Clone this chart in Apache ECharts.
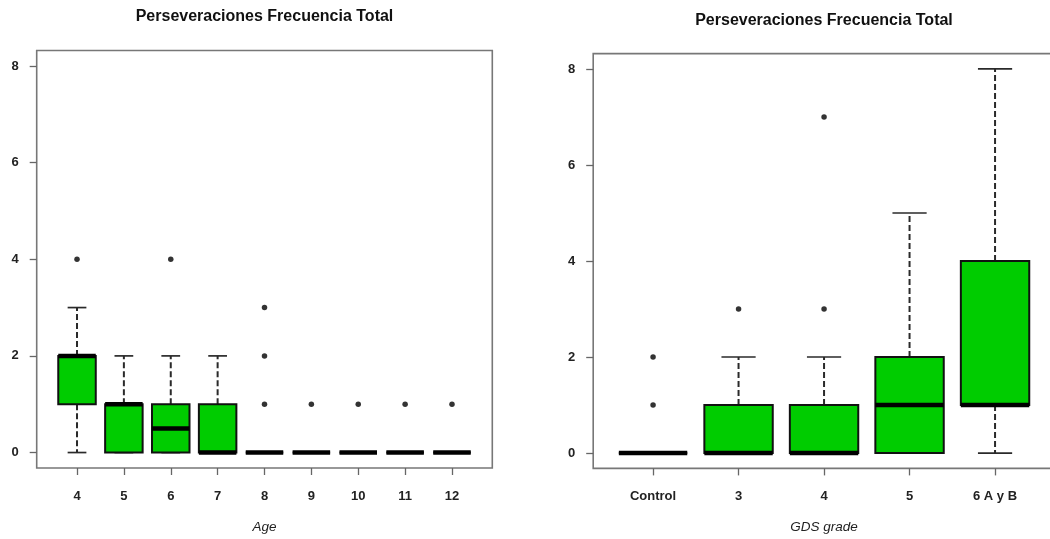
<!DOCTYPE html>
<html>
<head>
<meta charset="utf-8">
<title>Perseveraciones Frecuencia Total</title>
<script src="https://cdn.jsdelivr.net/npm/echarts@6/dist/echarts.min.js"></script>
<style>
  html, body { margin: 0; padding: 0; background: #ffffff; }
  #chart { width: 1050px; height: 539px; }
</style>
</head>
<body>
<div id="chart"></div>
<script>
// Box statistics per group: [min whisker, Q1, median, Q3, max whisker]
const ageCategories = ['4', '5', '6', '7', '8', '9', '10', '11', '12'];
const ageStats = [
  [0, 1, 2, 2, 3],
  [0, 0, 1, 1, 2],
  [0, 0, 0.5, 1, 2],
  [0, 0, 0, 1, 2],
  [0, 0, 0, 0, 0],
  [0, 0, 0, 0, 0],
  [0, 0, 0, 0, 0],
  [0, 0, 0, 0, 0],
  [0, 0, 0, 0, 0]
];
// Outliers: [group position (1-based), value]
const ageOutliers = [[1, 4], [3, 4], [5, 1], [5, 2], [5, 3], [6, 1], [7, 1], [8, 1], [9, 1]];

const gdsCategories = ['Control', '3', '4', '5', '6 A y B'];
const gdsStats = [
  [0, 0, 0, 0, 0],
  [0, 0, 0, 1, 2],
  [0, 0, 0, 1, 2],
  [0, 0, 1, 2, 5],
  [0, 1, 1, 4, 8]
];
const gdsOutliers = [[1, 1], [1, 2], [2, 3], [3, 3], [3, 7]];

const yTicks = [0, 2, 4, 6, 8];
const titleText = 'Perseveraciones Frecuencia Total';

const FONT = '"Liberation Sans", Arial, sans-serif';
const BOX_FILL = '#00cc00';
const BOX_WEX = 0.8;
const STAPLE_WEX = 0.5;

function toRows(stats) {
  return stats.map((s, i) => [i + 1].concat(s));
}

// R-style box: dashed whiskers, staples, filled box, thick median
function renderBox(params, api) {
  const x = api.value(0);
  const vals = [1, 2, 3, 4, 5].map(i => api.value(i));
  const halfW = api.size([BOX_WEX, 0])[0] / 2;
  const halfS = halfW * STAPLE_WEX;
  const px = api.coord([x, 0])[0];
  const py = vals.map(v => api.coord([x, v])[1]);
  const [yMin, yQ1, yMed, yQ3, yMax] = py;
  const dash = { stroke: '#2a2a2a', lineWidth: 2, lineDash: [6, 3] };
  const solid = { stroke: '#2a2a2a', lineWidth: 1.7 };
  const children = [];
  if (yMax < yQ3) {
    children.push({ type: 'line', shape: { x1: px, y1: yQ3, x2: px, y2: yMax }, style: dash });
  }
  if (yMin > yQ1) {
    children.push({ type: 'line', shape: { x1: px, y1: yQ1, x2: px, y2: yMin }, style: dash });
  }
  children.push({ type: 'line', shape: { x1: px - halfS, y1: yMax, x2: px + halfS, y2: yMax }, style: solid });
  children.push({ type: 'line', shape: { x1: px - halfS, y1: yMin, x2: px + halfS, y2: yMin }, style: solid });
  children.push({
    type: 'rect',
    shape: { x: px - halfW, y: yQ3, width: halfW * 2, height: yQ1 - yQ3 },
    style: { fill: BOX_FILL, stroke: '#111', lineWidth: 2 }
  });
  children.push({
    type: 'line',
    shape: { x1: px - halfW, y1: yMed, x2: px + halfW, y2: yMed },
    style: { stroke: '#000', lineWidth: 4.5, lineCap: 'butt' }
  });
  return { type: 'group', children: children };
}

function xAxisFor(idx, cats, name) {
  const n = cats.length;
  const ext = n * 0.04;
  const positions = cats.map((c, i) => i + 1);
  return {
    type: 'value',
    gridIndex: idx,
    min: 0.5 - ext,
    max: n + 0.5 + ext,
    position: 'bottom',
    axisLine: { show: false, onZero: false },
    axisTick: { show: true, customValues: positions, length: 7, lineStyle: { color: '#666', width: 1.3 } },
    axisLabel: {
      customValues: positions,
      margin: 22,
      formatter: v => cats[Math.round(v) - 1],
      color: '#222',
      fontFamily: FONT,
      fontWeight: 'bold',
      fontSize: 13
    },
    splitLine: { show: false },
    name: name,
    nameLocation: 'middle',
    nameGap: 52,
    nameTextStyle: { fontFamily: FONT, fontStyle: 'italic', fontSize: 13.5, color: '#222' }
  };
}

function yAxisFor(idx) {
  return {
    type: 'value',
    gridIndex: idx,
    min: -0.32,
    max: 8.32,
    axisLine: { show: false, onZero: false },
    axisTick: { show: true, customValues: yTicks, length: 7, lineStyle: { color: '#666', width: 1.3 } },
    axisLabel: {
      customValues: yTicks,
      margin: 18,
      color: '#222',
      fontFamily: FONT,
      fontWeight: 'bold',
      fontSize: 13
    },
    splitLine: { show: false }
  };
}

const chart = echarts.init(document.getElementById('chart'), null, { renderer: 'canvas' });

chart.setOption({
  backgroundColor: '#ffffff',
  animation: false,
  title: [
    {
      text: titleText, left: 264.5, top: 9, textAlign: 'center', padding: 0,
      textStyle: { fontFamily: FONT, fontWeight: 'bold', fontSize: 16, color: '#111' }
    },
    {
      text: titleText, left: 824, top: 13, textAlign: 'center', padding: 0,
      textStyle: { fontFamily: FONT, fontWeight: 'bold', fontSize: 16, color: '#111' }
    }
  ],
  grid: [
    {
      left: 36.7, width: 455.6, top: 50.5, height: 417.5, outerBoundsMode: 'none',
      show: true, borderColor: '#777', borderWidth: 1.6, backgroundColor: 'transparent'
    },
    {
      left: 593.2, width: 461.7, top: 53.6, height: 414.8, outerBoundsMode: 'none',
      show: true, borderColor: '#777', borderWidth: 1.6, backgroundColor: 'transparent'
    }
  ],
  xAxis: [xAxisFor(0, ageCategories, 'Age'), xAxisFor(1, gdsCategories, 'GDS grade')],
  yAxis: [yAxisFor(0), yAxisFor(1)],
  series: [
    {
      type: 'custom', xAxisIndex: 0, yAxisIndex: 0,
      renderItem: renderBox, data: toRows(ageStats),
      encode: { x: 0, y: [1, 2, 3, 4, 5] }
    },
    {
      type: 'scatter', xAxisIndex: 0, yAxisIndex: 0,
      data: ageOutliers, symbol: 'circle', symbolSize: 5.5,
      itemStyle: { color: '#000' }
    },
    {
      type: 'custom', xAxisIndex: 1, yAxisIndex: 1,
      renderItem: renderBox, data: toRows(gdsStats),
      encode: { x: 0, y: [1, 2, 3, 4, 5] }
    },
    {
      type: 'scatter', xAxisIndex: 1, yAxisIndex: 1,
      data: gdsOutliers, symbol: 'circle', symbolSize: 5.5,
      itemStyle: { color: '#000' }
    }
  ]
});
</script>
</body>
</html>
